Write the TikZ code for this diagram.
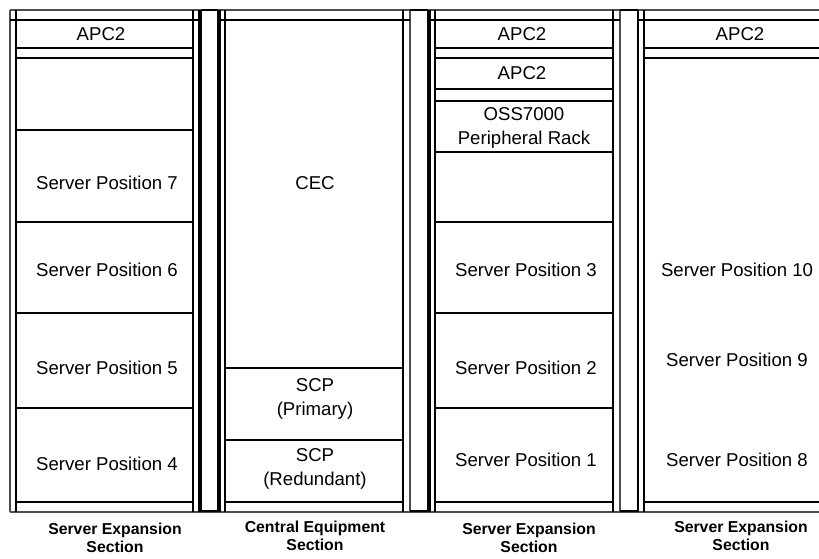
\documentclass[tikz,border=0pt]{standalone}
\usepackage{fontspec}
\setmainfont{Liberation Sans}
\begin{document}
\begin{tikzpicture}[x=0.5pt,y=-0.5pt,
frame/.style={line width=1.1pt,black!70},
rail/.style={line width=0.9pt,black},
shelf/.style={line width=0.55pt,black},
slot text/.style={font=\fontsize{9.3}{12}\selectfont,align=center,inner sep=0pt},
section text/.style={font=\fontsize{7.9}{9}\selectfont\bfseries,align=center,inner sep=0pt}]
\useasboundingbox (0,0) rectangle (819,558);
% cabinet frame
\draw[frame] (10,10) -- (819,10);
\draw[frame] (10,512) -- (819,512);
\draw[frame] (10,10) -- (10,512);
\foreach \x in {410,620} \draw[frame] (\x,10) -- (\x,512);
\foreach \x in {193,201,218,428,638} \draw[rail] (\x,10) -- (\x,512);
\foreach \x in {16,199,220,225,403,430,435,613,644} \draw[shelf] (\x,10) -- (\x,512);
\foreach \l/\r in {201/218,410/428,620/638}{
\draw[rail] (\l,10) -- (\r,10);
\draw[rail] (\l,511) -- (\r,511);
}
\foreach \l/\r in {10/199,220/410,428/620,638/819} \draw[shelf] (\l,20) -- (\r,20);
% shelves
\foreach \y in {48,58,130,222,313,408,502} \draw[shelf] (16,\y) -- (193,\y);
\foreach \y in {368,440,502} \draw[shelf] (225,\y) -- (403,\y);
\foreach \y in {48,58,89,101,152,222,313,408,502} \draw[shelf] (435,\y) -- (613,\y);
\foreach \y in {48,58,502} \draw[shelf] (644,\y) -- (819,\y);
% left section
\node[slot text] (apcA) at (101,34) {APC2};
\node[slot text] (spSeven) at (107,183) {Server Position 7};
\node[slot text] (spSix) at (107,270) {Server Position 6};
\node[slot text] (spFive) at (107,368) {Server Position 5};
\node[slot text] (spFour) at (107,464) {Server Position 4};
% central section
\node[slot text] (cec) at (315,183) {CEC};
\node[slot text] (scpP) at (315,399) {SCP\\(Primary)};
\node[slot text] (scpR) at (315,469) {SCP\\(Redundant)};
% right sections
\node[slot text] (apcB) at (522,34) {APC2};
\node[slot text] (apcC) at (522,73) {APC2};
\node[slot text] (oss) at (524,128) {OSS7000\\Peripheral Rack};
\node[slot text] (spThree) at (526,270) {Server Position 3};
\node[slot text] (spTwo) at (526,368) {Server Position 2};
\node[slot text] (spOne) at (526,460) {Server Position 1};
\node[slot text] (apcD) at (740,34) {APC2};
\node[slot text] (spTen) at (737,270) {Server Position 10};
\node[slot text] (spNine) at (737,360) {Server Position 9};
\node[slot text] (spEight) at (737,460) {Server Position 8};
% section labels
\node[section text] (secA) at (115,538) {Server Expansion\\Section};
\node[section text] (secB) at (315,536) {Central Equipment\\Section};
\node[section text] (secC) at (529,538) {Server Expansion\\Section};
\node[section text] (secD) at (741,536) {Server Expansion\\Section};
\end{tikzpicture}
\end{document}
